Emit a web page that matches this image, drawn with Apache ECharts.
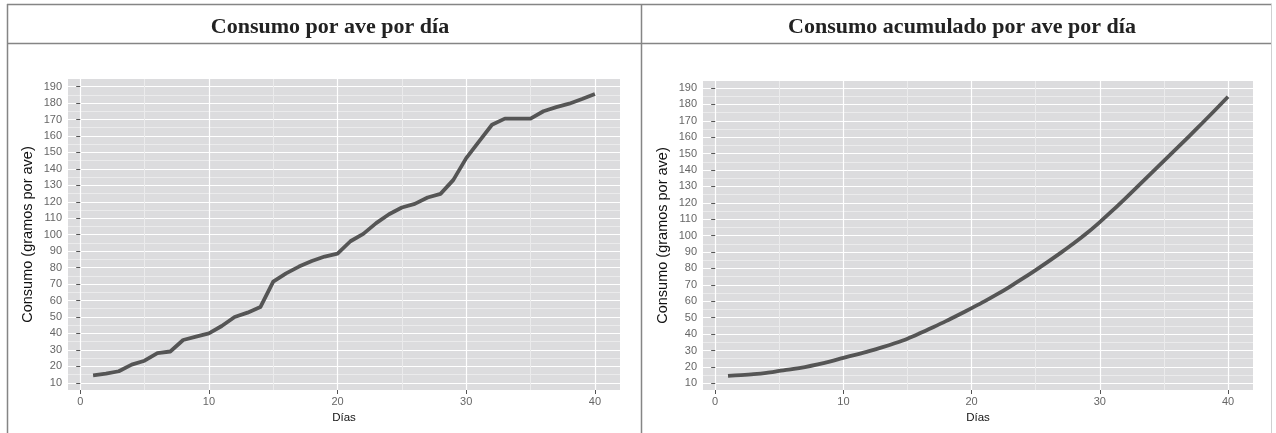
<!DOCTYPE html>
<html><head><meta charset="utf-8">
<script src="https://cdn.jsdelivr.net/npm/echarts@6/dist/echarts.min.js"></script>
<style>html,body{margin:0;padding:0;background:#fff}#c{width:1276px;height:433px}</style>
</head><body><div id="c"></div>
<script>
const dias = [1,2,3,4,5,6,7,8,9,10,11,12,13,14,15,16,17,18,19,20,21,22,23,24,25,26,27,28,29,30,31,32,33,34,35,36,37,38,39,40];
const consumoDiario = [14.5,15.5,17,21,23.4,28,29,36,38,40,44.5,50,52.6,56,71.5,76.5,80.6,84,86.7,88.5,96,100.5,107,112.4,116.5,118.7,122.6,124.8,133.3,146.5,156.7,166.8,170.5,170.5,170.5,175,177.5,179.6,182.4,185.5];
const consumoAcumulado = [14.5,15.0,15.6,16.4,17.5,18.6,19.9,21.5,23.4,25.5,27.5,29.6,31.9,34.4,37.2,40.6,44.2,47.9,51.8,55.8,59.9,64.3,69.0,73.9,79.0,84.3,89.8,95.5,101.6,108.3,115.4,122.8,130.4,138.0,145.6,153.2,160.9,168.7,176.6,184.7];
const xTicks = [0,10,20,30,40];
const yTicks = [10,20,30,40,50,60,70,80,90,100,110,120,130,140,150,160,170,180,190];
const titulos = ['Consumo por ave por día','Consumo acumulado por ave por día'];
const ejeY = 'Consumo (gramos por ave)';
const ejeX = 'Días';

const sans = 'Liberation Sans, Arial, sans-serif';
function xAxisCfg(gi){
  return {type:'value', gridIndex:gi, min:-0.95, max:41.95, splitNumber:4,
    axisLine:{show:false},
    axisTick:{show:true, length:4, customValues:xTicks, lineStyle:{color:'#555', width:1}},
    axisLabel:{customValues:xTicks, color:'#666', fontSize:11, margin:6, fontFamily:sans},
    splitLine:{show:true, lineStyle:{color:'#ffffff', width:1.2}},
    minorTick:{show:false, splitNumber:2},
    minorSplitLine:{show:true, lineStyle:{color:'#ebebec', width:1}},
    name:ejeX, nameLocation:'middle', nameGap:19,
    nameTextStyle:{color:'#111', fontSize:11.5, fontFamily:sans}};
}
function yAxisCfg(gi, mn, mx){
  return {type:'value', gridIndex:gi, min:mn, max:mx, splitNumber:18,
    axisLine:{show:false},
    axisTick:{show:true, length:4, customValues:yTicks, lineStyle:{color:'#555', width:1}},
    axisLabel:{customValues:yTicks, color:'#666', fontSize:11, margin:6, fontFamily:sans},
    splitLine:{show:true, lineStyle:{color:'#ffffff', width:1.2}},
    minorTick:{show:false, splitNumber:2},
    minorSplitLine:{show:true, lineStyle:{color:'#ebebec', width:1}},
    name:ejeY, nameLocation:'middle', nameGap:33,
    nameTextStyle:{color:'#111', fontSize:14.5, fontFamily:sans}};
}
const chart = echarts.init(document.getElementById('c'), null, {renderer:'canvas'});
const frame = {stroke:'#858585', lineWidth:1.5};
chart.setOption({
  animation:false,
  backgroundColor:'#ffffff',
  title:[
    {text:titulos[0], left:325, top:11, textAlign:'center', textStyle:{fontFamily:'Liberation Serif, serif', fontWeight:'bold', fontSize:22, color:'#222'}},
    {text:titulos[1], left:957, top:11, textAlign:'center', textStyle:{fontFamily:'Liberation Serif, serif', fontWeight:'bold', fontSize:22, color:'#222'}}
  ],
  grid:[
    {left:68, top:79, width:552, height:311, show:true, backgroundColor:'#dcdcde', borderWidth:0, containLabel:false, outerBoundsMode:'none'},
    {left:703, top:81, width:550, height:309, show:true, backgroundColor:'#dcdcde', borderWidth:0, containLabel:false, outerBoundsMode:'none'}
  ],
  xAxis:[xAxisCfg(0), xAxisCfg(1)],
  yAxis:[yAxisCfg(0, 5.6, 194.6), yAxisCfg(1, 5.9, 194.3)],
  series:[
    {type:'line', xAxisIndex:0, yAxisIndex:0, data:dias.map((d,i)=>[d, consumoDiario[i]]), showSymbol:false, lineStyle:{color:'#555555', width:3.8, cap:'butt', join:'round'}, z:5},
    {type:'line', xAxisIndex:1, yAxisIndex:1, data:dias.map((d,i)=>[d, consumoAcumulado[i]]), smooth:0.3, showSymbol:false, lineStyle:{color:'#555555', width:3.8, cap:'butt', join:'round'}, z:5}
  ],
  graphic:[
    {type:'line', shape:{x1:7, y1:4.5, x2:1272, y2:4.5}, style:frame, silent:true},
    {type:'line', shape:{x1:7, y1:43.5, x2:1272, y2:43.5}, style:frame, silent:true},
    {type:'line', shape:{x1:7.5, y1:4, x2:7.5, y2:433}, style:frame, silent:true},
    {type:'line', shape:{x1:641.5, y1:4, x2:641.5, y2:433}, style:frame, silent:true},
    {type:'line', shape:{x1:1271.5, y1:4, x2:1271.5, y2:433}, style:{stroke:'#d0d0d0', lineWidth:1}, silent:true}
  ]
});
</script></body></html>
